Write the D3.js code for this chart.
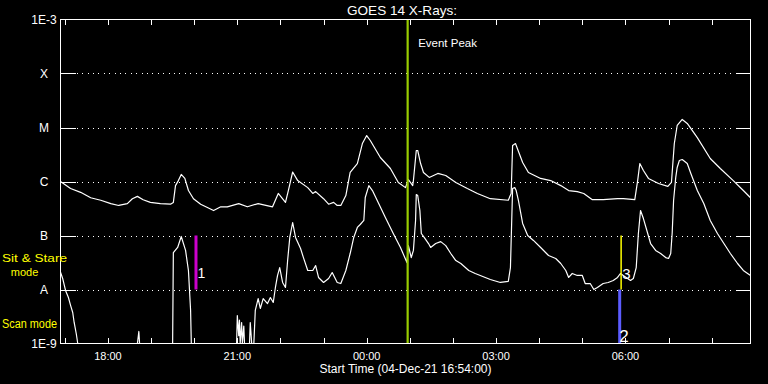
<!DOCTYPE html>
<html>
<head>
<meta charset="utf-8">
<script src="https://cdn.jsdelivr.net/npm/d3@7"></script>
<style>
  html, body { margin: 0; padding: 0; background: #000; }
  svg { display: block; }
  text { font-family: "Liberation Sans", Arial, sans-serif; fill: #fff; }
</style>
</head>
<body>
<svg id="chart" width="768" height="384"></svg>
<script>
// ---- Data ----
const title = "GOES 14 X-Rays:";
const startLabel = "Start Time (04-Dec-21 16:54:00)";
const startTime = Date.UTC(2021, 11, 4, 16, 54);   // 04-Dec-21 16:54:00
const spanHours = 16;

// Y axis (flux, W/m^2) decade levels and labels
const levelFlux  = [1e-9, 1e-8, 1e-7, 1e-6, 1e-5, 1e-4, 1e-3];
const levelLabel = ["1E-9", "A", "B", "C", "M", "X", "1E-3"];

// Long channel (upper curve): minutes after start, flux
const upperMin = [0,14,28,42,56,70,81,93,100,107,115,125,139,153,157,160,164,168,173,178,185,195,213,223,232,248,260,275,295,303,313,317,323,330,344,351,355,366,373,380,385,390,397,403,413,420,426,431,445,459,470,480,484,490,491,495,497,501,505,513,525,536,550,566,580,598,623,627,629,633,643,651,668,682,696,707,719,728,740,755,775,783,799,803,806,811,818,832,845,850,854,858,865,872,886,904,918,936,950,960];
const upperFlux = [1.0e-6,7.4e-7,6.3e-7,5.0e-7,4.5e-7,3.9e-7,3.6e-7,3.9e-7,4.8e-7,5.3e-7,4.6e-7,4.1e-7,3.9e-7,3.8e-7,4.1e-7,8.4e-7,1.04e-6,1.35e-6,1.14e-6,6.8e-7,4.8e-7,3.8e-7,2.9e-7,3.4e-7,3.4e-7,3.9e-7,3.4e-7,3.9e-7,3.4e-7,6.0e-7,4.1e-7,6.8e-7,1.5e-6,1.04e-6,7.7e-7,6.0e-7,6.5e-7,4.8e-7,3.8e-7,4.1e-7,3.6e-7,3.6e-7,5.5e-7,1.47e-6,2.15e-6,5.05e-6,7.1e-6,5.75e-6,2.78e-6,1.74e-6,9.6e-7,7.7e-7,1.09e-6,8.4e-7,1.04e-6,3.75e-6,3.75e-6,2.15e-6,1.47e-6,1.19e-6,1.41e-6,1.29e-6,9.6e-7,7.4e-7,6.0e-7,4.8e-7,4.5e-7,6.0e-7,4.64e-6,5.05e-6,2.25e-6,1.47e-6,1.14e-6,1.04e-6,8.4e-7,6.8e-7,6.5e-7,6.0e-7,4.6e-7,4.6e-7,4.8e-7,4.8e-7,4.6e-7,1.04e-6,2.15e-6,1.6e-6,1.14e-6,9.2e-7,8.1e-7,9.6e-7,5.05e-6,1.09e-5,1.41e-5,1.19e-5,6.5e-6,2.67e-6,1.74e-6,1.04e-6,6.8e-7,5.0e-7];

// Short channel (lower curve): minutes after start, flux (1e-10 = below plotted range)
const lowerMin = [0,3,7,11,14,17,19,22,24,25,107,109,110,156,157,163,168,174,178,181,182,184,245,246,248,249,250,252,253,255,256,263,264,266,269,271,275,278,282,288,292,296,299,302,305,309,313,316,319,323,327,334,338,344,351,355,359,366,373,378,385,390,397,403,408,413,417,422,424,429,434,442,452,463,473,482,484,488,491,494,495,497,500,502,506,512,515,522,529,536,543,550,557,568,577,591,598,612,623,626,629,632,634,637,643,650,658,668,679,689,696,703,707,712,719,726,730,737,742,747,755,762,769,775,779,783,789,793,797,801,804,807,811,817,821,828,835,842,846,849,851,853,856,858,861,865,872,877,886,895,904,914,923,932,942,950,960];
const lowerFlux = [2.1e-8,1.6e-8,9.6e-9,7.1e-9,5.1e-9,3.75e-9,2.45e-9,1.5e-9,1.0e-9,1e-10,1e-10,1.67e-9,1e-10,1e-10,4.8e-8,6.0e-8,9.6e-8,5.3e-8,2.25e-8,4.1e-9,1.0e-9,1e-10,1e-10,3.3e-9,1.4e-9,2.7e-9,1e-10,2.45e-9,1e-10,2.1e-9,1e-10,1e-10,2.45e-9,1e-10,1e-10,4.1e-9,6.8e-9,4.45e-9,6.8e-9,5.5e-9,7.1e-9,5.75e-9,1.09e-8,1.82e-8,2.55e-8,1.35e-8,1.09e-8,3.44e-8,9.2e-8,1.74e-7,9.2e-8,5.75e-8,3.9e-8,2.25e-8,2.25e-8,2.78e-8,1.67e-8,1.35e-8,1.6e-8,2.06e-8,1.35e-8,1.29e-8,2.25e-8,4.64e-8,9.2e-8,1.41e-7,1.6e-7,1.9e-7,5.05e-7,8.4e-7,6.8e-7,4.1e-7,2.15e-7,1.09e-7,6.0e-8,3.16e-8,6.5e-8,3.9e-8,5.3e-8,1.9e-7,5.75e-7,5.5e-7,2.9e-7,1.09e-7,9.2e-8,7.1e-8,6.0e-8,7.1e-8,7.7e-8,6.5e-8,4.64e-8,3.44e-8,3.03e-8,2.25e-8,1.98e-8,1.67e-8,1.53e-8,1.35e-8,1.41e-8,2.55e-8,7.4e-7,7.7e-7,6.8e-7,4.5e-7,1.67e-7,1.0e-7,8.1e-8,6.0e-8,4.26e-8,3.75e-8,3.03e-8,2.25e-8,1.67e-8,1.98e-8,1.82e-8,1.82e-8,1.29e-8,1.29e-8,1.0e-8,1.09e-8,1.29e-8,1.35e-8,1.47e-8,1.67e-8,1.98e-8,1.82e-8,1.6e-8,1.47e-8,1.6e-8,2.55e-8,1.09e-7,2.9e-7,2.06e-7,1.09e-7,7.1e-8,5.3e-8,4.64e-8,3.9e-8,3.75e-8,4.64e-8,1.09e-7,4.5e-7,1.19e-6,1.82e-6,2.45e-6,2.55e-6,2.15e-6,1.41e-6,6.8e-7,3.9e-7,1.9e-7,1.09e-7,7.1e-8,4.64e-8,3.03e-8,2.25e-8,1.82e-8];

// Event peak marker
const eventPeakMin = 483;
const eventPeakLabel = "Event Peak";

// Numbered markers: label, minutes after start, flux range
const markerLabel = ["1", "2", "3"];
const markerMin   = [188.5, 778, 780];
const markerLow   = [1e-8, 1e-9, 1e-8];
const markerHigh  = [1e-7, 1e-8, 1e-7];

// Mode labels
const modeLabels = ["Sit & Stare", "mode", "Scan mode"];

// ---- Styles ----
const markerColor = ["#cc00cc", "#5c5cff", "#ffff00"];
const markerWidth = [3, 3, 1.5];
const eventColor = "#99cc00";
const modeColor = "#ffff00";

// ---- Drawing ----
const svg = d3.select("#chart");
const L = 60.5, R = 750.5, T = 19.5, B = 343.5;

const t0 = new Date(startTime);
const t1 = new Date(startTime + spanHours * 3600e3);
const toDate = m => new Date(startTime + m * 60000);

const x = d3.scaleUtc().domain([t0, t1]).range([L, R]);
const y = d3.scaleLog().domain([1e-9, 1e-3]).range([B, T]).clamp(true);

svg.append("rect").attr("width", 768).attr("height", 384).attr("fill", "#000");

// Dotted gridlines at decades
const inner = levelFlux.slice(1, -1);
svg.append("g").selectAll("line").data(inner).join("line")
  .attr("x1", L).attr("x2", R)
  .attr("y1", d => Math.round(y(d)) + 0.5).attr("y2", d => Math.round(y(d)) + 0.5)
  .attr("stroke", "#fff").attr("stroke-width", 1)
  .attr("stroke-dasharray", "1,4.4")
  .attr("shape-rendering", "crispEdges");

// Y tick marks (left & right)
const yt = svg.append("g").attr("shape-rendering", "crispEdges");
inner.forEach(d => {
  const yy = Math.round(y(d)) + 0.5;
  yt.append("line").attr("x1", L).attr("x2", L + 15).attr("y1", yy).attr("y2", yy).attr("stroke", "#fff");
  yt.append("line").attr("x1", R - 14).attr("x2", R).attr("y1", yy).attr("y2", yy).attr("stroke", "#fff");
});

// Y labels
svg.append("g").selectAll("text").data(levelFlux).join("text")
  .attr("x", 44).attr("y", d => y(d) + 4.5)
  .attr("text-anchor", "middle").attr("font-size", 12)
  .text((d, i) => levelLabel[i]);

// X axis ticks (hourly), bottom and top
const hours = d3.utcHour.every(1).range(t0, t1);
const xt = svg.append("g").attr("shape-rendering", "crispEdges");
hours.forEach(h => {
  const xx = Math.round(x(h)) + 0.5;
  xt.append("line").attr("x1", xx).attr("x2", xx).attr("y1", B).attr("y2", B - 6).attr("stroke", "#fff");
  xt.append("line").attr("x1", xx).attr("x2", xx).attr("y1", T).attr("y2", T + 5).attr("stroke", "#fff");
});
const fmt = d3.utcFormat("%H:%M");
svg.append("g").selectAll("text").data(hours.filter(h => h.getUTCHours() % 3 === 0)).join("text")
  .attr("x", d => x(d)).attr("y", 359.5)
  .attr("text-anchor", "middle").attr("font-size", 11)
  .text(d => fmt(d));

svg.append("text").attr("x", (L + R) / 2).attr("y", 372.5)
  .attr("text-anchor", "middle").attr("font-size", 12).text(startLabel);

svg.append("text").attr("x", 402).attr("y", 14.5)
  .attr("text-anchor", "middle").attr("font-size", 13)
  .attr("textLength", 110).attr("lengthAdjust", "spacingAndGlyphs").text(title);

// Curves
svg.append("clipPath").attr("id", "plotclip").append("rect")
  .attr("x", L).attr("y", T - 1).attr("width", R - L).attr("height", B - T + 1);

const line = d3.line().x(d => x(toDate(d[0]))).y(d => y(d[1]));
const upper = d3.zip(upperMin, upperFlux);
const lower = d3.zip(lowerMin, lowerFlux);
const curves = svg.append("g").attr("clip-path", "url(#plotclip)");
curves.append("path").datum(upper).attr("d", line)
  .attr("fill", "none").attr("stroke", "#fff").attr("stroke-width", 1.2).attr("stroke-linejoin", "round");
curves.append("path").datum(lower).attr("d", line)
  .attr("fill", "none").attr("stroke", "#fff").attr("stroke-width", 1.2).attr("stroke-linejoin", "round");

// Numbered markers
markerMin.forEach((m, i) => {
  svg.append("line")
    .attr("x1", x(toDate(m))).attr("x2", x(toDate(m)))
    .attr("y1", y(markerLow[i])).attr("y2", y(markerHigh[i]))
    .attr("stroke", markerColor[i]).attr("stroke-width", markerWidth[i]);
});
// marker numbers
svg.append("text").attr("x", x(toDate(markerMin[0])) + 1.5).attr("y", 277.5).attr("font-size", 14).text(markerLabel[0]);
svg.append("text").attr("x", x(toDate(markerMin[1])) - 0.5).attr("y", 341.5).attr("font-size", 17).text(markerLabel[1]);
svg.append("text").attr("x", x(toDate(markerMin[2])) + 1).attr("y", 278.5).attr("font-size", 15).text(markerLabel[2]);

// Event peak line
const ex = x(toDate(eventPeakMin));
svg.append("line").attr("x1", ex).attr("x2", ex).attr("y1", T - 0.5).attr("y2", B)
  .attr("stroke", eventColor).attr("stroke-width", 2.2);
svg.append("text").attr("x", ex + 10.5).attr("y", 47).attr("font-size", 11.5).text(eventPeakLabel);

// Frame
svg.append("rect").attr("x", L).attr("y", T).attr("width", R - L).attr("height", B - T)
  .attr("fill", "none").attr("stroke", "#fff").attr("stroke-width", 1)
  .attr("shape-rendering", "crispEdges");

// Mode labels
svg.append("text").attr("x", 2).attr("y", 262).attr("font-size", 11).style("fill", modeColor)
  .attr("textLength", 65).attr("lengthAdjust", "spacingAndGlyphs").text(modeLabels[0]);
svg.append("text").attr("x", 24.5).attr("y", 276).attr("font-size", 11).attr("text-anchor", "middle")
  .style("fill", modeColor).text(modeLabels[1]);
svg.append("text").attr("x", 2).attr("y", 328).attr("font-size", 12).style("fill", modeColor)
  .attr("textLength", 55).attr("lengthAdjust", "spacingAndGlyphs").text(modeLabels[2]);
</script>
</body>
</html>
